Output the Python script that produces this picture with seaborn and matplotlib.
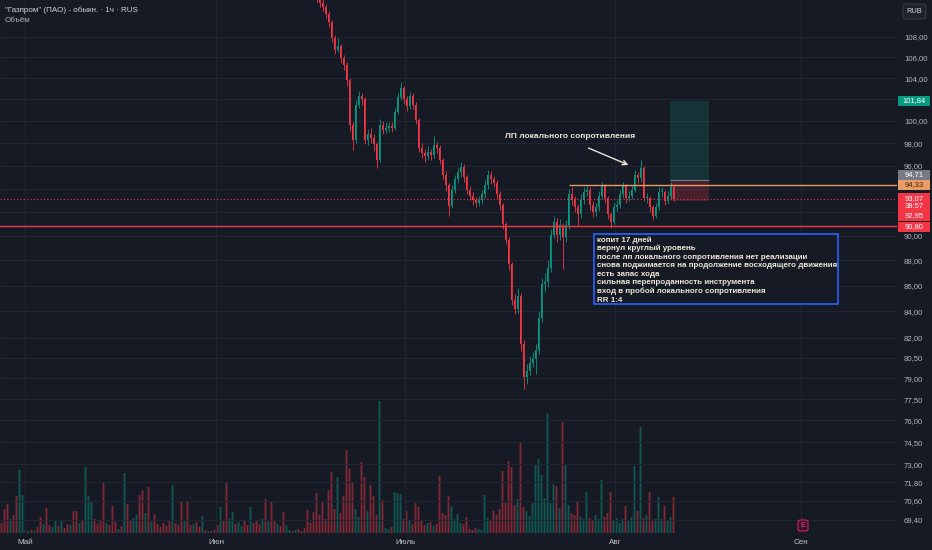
import numpy as np
import pandas as pd
import matplotlib
matplotlib.use("Agg")
import matplotlib.pyplot as plt
from matplotlib.patches import Rectangle, FancyBboxPatch
from matplotlib.ticker import FixedLocator, FuncFormatter, NullLocator
import seaborn as sns

# --- data (1 bar ~ a few hourly candles) ---
price_start = 100        # bars before this are above the visible price range
first_open = 116.8
closes = [116.0, 115.0, 114.0, 113.3, 112.6, 111.9, 111.4, 111.0, 110.3, 109.5,
          107.9, 106.7, 107.1, 105.9, 105.3, 103.8, 99.6, 98.3, 101.5, 102.3,
          102.0, 98.3, 98.8, 98.5, 97.9, 96.5, 99.6, 99.2, 99.4, 99.5,
          99.4, 100.8, 102.2, 103.1, 102.0, 101.4, 102.3, 101.5, 100.1, 97.6,
          97.1, 96.8, 97.2, 96.9, 97.8, 97.6, 96.5, 95.2, 94.3, 92.5,
          93.9, 94.8, 95.4, 95.9, 95.0, 93.9, 93.4, 93.0, 92.8, 93.0,
          93.5, 94.3, 95.2, 94.8, 94.5, 93.5, 92.6, 91.0, 89.7, 87.7,
          84.9, 84.2, 85.2, 81.5, 79.1, 79.5, 80.1, 80.4, 81.1, 83.5,
          86.1, 86.3, 87.4, 90.1, 91.2, 90.1, 90.9, 89.9, 90.9, 93.5,
          93.0, 92.4, 91.8, 93.0, 93.7, 93.9, 92.6, 92.0, 92.4, 93.4,
          94.2, 93.2, 91.8, 91.2, 92.4, 92.6, 93.5, 94.2, 93.2, 93.4,
          93.9, 95.2, 94.9, 95.8, 93.2, 93.2, 92.4, 91.7, 92.4, 93.7,
          93.7, 92.9, 93.4, 94.1, 93.07]
highs = [117.2, 116.3, 115.4, 114.3, 113.6, 112.9, 112.3, 111.8, 111.3, 110.6,
         109.7, 108.2, 107.9, 107.3, 106.2, 105.6, 104.0, 99.9, 101.9, 102.8,
         102.6, 102.2, 99.3, 99.4, 98.8, 98.1, 100.2, 100.0, 99.9, 99.9,
         99.9, 101.2, 102.6, 103.6, 103.3, 102.3, 102.7, 102.6, 101.8, 100.3,
         98.0, 97.5, 97.7, 97.5, 98.6, 98.1, 97.8, 96.7, 95.5, 94.5,
         94.3, 95.2, 95.8, 96.3, 96.1, 95.2, 94.2, 93.7, 93.3, 93.4,
         93.9, 94.7, 95.6, 95.5, 95.1, 94.7, 93.8, 92.8, 91.2, 89.9,
         87.9, 85.3, 85.8, 85.4, 81.8, 80.0, 80.6, 80.9, 81.5, 84.0,
         86.6, 87.0, 88.0, 90.6, 91.7, 91.5, 91.4, 91.1, 91.3, 94.0,
         94.1, 93.4, 92.7, 93.5, 94.1, 94.3, 94.1, 92.9, 92.8, 93.8,
         94.6, 94.4, 93.4, 92.0, 92.8, 93.0, 93.9, 94.6, 94.4, 93.8,
         94.3, 95.6, 95.4, 96.5, 96.0, 93.6, 93.4, 92.6, 92.8, 94.1,
         94.1, 93.9, 93.8, 94.6, 94.3]
lows = [115.7, 114.7, 113.7, 113.0, 112.2, 111.5, 111.0, 110.6, 109.9, 109.0,
        107.5, 106.3, 106.5, 105.5, 104.8, 103.3, 99.1, 97.4, 98.0, 101.2,
        101.5, 97.9, 97.8, 98.0, 97.3, 95.8, 96.3, 98.8, 98.9, 99.0,
        99.0, 99.2, 100.6, 101.9, 101.6, 100.9, 101.1, 101.1, 99.7, 97.2,
        96.7, 96.3, 96.5, 96.5, 96.7, 97.1, 96.1, 94.8, 93.8, 91.7,
        92.3, 93.6, 94.5, 95.0, 94.6, 93.5, 93.0, 92.6, 92.4, 92.5,
        92.7, 93.2, 94.0, 94.4, 94.1, 93.1, 92.2, 90.6, 89.3, 87.2,
        84.5, 83.8, 83.9, 81.0, 78.2, 78.6, 79.2, 79.8, 79.3, 80.8,
        83.2, 85.5, 85.9, 87.1, 89.8, 89.5, 89.7, 87.3, 89.5, 90.6,
        92.6, 92.0, 90.8, 91.5, 92.7, 93.4, 92.2, 91.6, 91.7, 92.1,
        93.1, 92.8, 91.4, 90.7, 91.0, 92.1, 92.3, 93.2, 92.8, 92.9,
        93.1, 93.7, 94.5, 94.6, 92.9, 92.8, 92.0, 91.3, 91.5, 92.2,
        93.3, 92.6, 92.7, 93.1, 92.9]
volume = [10, 24, 29, 14, 18, 37, 63, 38, 3, 2, 3, 2, 6, 16, 9,
          25, 8, 6, 12, 7, 13, 5, 9, 8, 22, 22, 10, 12, 66, 37,
          32, 14, 9, 12, 50, 10, 8, 27, 11, 4, 7, 60, 29, 12, 15,
          18, 38, 43, 20, 46, 11, 19, 9, 6, 10, 7, 12, 48, 10, 8,
          32, 12, 31, 8, 9, 11, 6, 17, 3, 2, 2, 3, 8, 26, 12,
          50, 14, 21, 9, 11, 7, 12, 8, 26, 10, 12, 9, 14, 34, 11,
          31, 13, 9, 7, 21, 8, 3, 2, 3, 4, 2, 5, 23, 10, 21,
          40, 18, 32, 14, 43, 61, 24, 56, 20, 37, 83, 64, 50, 24, 16,
          71, 56, 22, 48, 37, 18, 132, 33, 5, 4, 6, 41, 40, 39, 14,
          22, 12, 9, 30, 26, 12, 8, 10, 11, 7, 9, 57, 20, 18, 37,
          27, 14, 19, 10, 9, 16, 4, 3, 5, 4, 3, 38, 15, 12, 22,
          18, 24, 62, 30, 72, 66, 28, 34, 91, 26, 22, 17, 30, 69, 74,
          58, 35, 119, 30, 49, 47, 25, 111, 69, 28, 20, 18, 31, 16, 14,
          41, 15, 12, 18, 14, 53, 16, 20, 41, 12, 15, 10, 14, 27, 13,
          16, 67, 22, 106, 15, 18, 41, 12, 14, 36, 14, 27, 12, 16, 36]
# candle colour of the bars whose price is off the top of the view
early_dirs = ("dddudduudu" "duddudduud" "uddudduduu" "uddddudddu" "dudduuddud"
              "uddddddudd" "dudduddudu" "dddudduudu" "uddudddudu" "ddudduudud")

month_labels = ["Май", "Июн", "Июль", "Авг", "Сен"]
month_pos = [7.8, 71.5, 134.5, 204.5, 266.5]
price_ticks = [108, 106, 104, 102, 100, 98, 96, 94, 92, 90, 88, 86, 84, 82,
               80.5, 79, 77.5, 76, 74.5, 73, 71.8, 70.6, 69.4]
hidden_ticks = [102, 94, 92]   # covered by the price tags

target, entry, stop = 101.84, 94.71, 92.95
last_price = 93.07
level_orange = 94.33
level_red = 90.80
box_x = (222.8, 235.8)
orange_from = 189

note_lines = ["копит 17 дней",
              "вернул круглый уровень",
              "после лп локального сопротивления нет реализации",
              "снова поджимается на продолжение восходящего движения",
              "есть запас хода",
              "сильная перепроданность инструмента",
              "вход в пробой локального сопротивления",
              "RR 1:4"]

BG = "#161a25"
GRID = "#212531"
UP, DOWN = "#089981", "#f23645"
CREAM = "#ebe6d4"

sns.set_theme(style="dark", rc={"axes.facecolor": BG, "figure.facecolor": BG,
                                "axes.edgecolor": BG, "text.color": "#c9ccd4"})
plt.rcParams["font.family"] = ["Liberation Sans", "DejaVu Sans"]

W, H = 932, 550
fig = plt.figure(figsize=(W / 100, H / 100), dpi=100, facecolor=BG)
rect = [0, (H - 533) / H, 897 / W, 533 / H]
axv = fig.add_axes(rect)
ax = fig.add_axes(rect)
ax.patch.set_alpha(0)
xmax = 298.5


def px(x, y):
    return x / W, 1 - y / H


def fmt(v):
    return f"{v:.2f}".replace(".", ",")


# volume pane
c = np.array(closes)
o = np.r_[first_open, c[:-1]]
dirs = ["up" if ch == "u" else "down" for ch in early_dirs]
dirs += ["up" if up else "down" for up in (c >= o)]
vol_df = pd.DataFrame({"bar": np.arange(len(volume)), "vol": volume, "dir": dirs})
sns.barplot(data=vol_df, x="bar", y="vol", hue="dir", palette={"up": UP, "down": DOWN},
            native_scale=True, dodge=False, width=0.6, alpha=0.5, saturation=1,
            errorbar=None, legend=False, linewidth=0, edgecolor="none", snap=False,
            ax=axv)
axv.set_xlim(-0.5, xmax)
axv.set_ylim(0, 533)   # tallest volume bar takes about a quarter of the pane
axv.axis("off")

# candles
idx = np.arange(price_start, price_start + len(closes))
col = np.where(c >= o, UP, DOWN)
ax.set_yscale("log")
ax.vlines(idx, lows, highs, colors=col, lw=0.6, zorder=3)
ax.bar(idx, np.maximum(np.abs(c - o), 0.05), bottom=np.minimum(o, c), width=0.55,
       color=col, lw=0, zorder=3)
ax.set_xlim(-0.5, xmax)
ax.set_ylim(68.55, 111.73)

# axes styling
ax.yaxis.tick_right()
ax.yaxis.set_major_locator(FixedLocator(price_ticks))
ax.yaxis.set_minor_locator(NullLocator())
ax.yaxis.set_major_formatter(FuncFormatter(lambda v, _: "" if v in hidden_ticks else fmt(v)))
ax.set_xticks(month_pos)
ax.set_xticklabels(month_labels)
ax.tick_params(axis="y", length=0, pad=5, labelsize=5.6, colors="#b2b5be")
ax.tick_params(axis="x", length=0, pad=4, labelsize=5.8, colors="#c4c7ce")
ax.grid(True, color=GRID, lw=0.8)
for s in ax.spines.values():
    s.set_visible(False)

# levels and position box
ax.axhline(level_red, color=DOWN, lw=1, zorder=4)
ax.axhline(last_price, color=DOWN, lw=0.8, ls=(0, (1, 2)), zorder=4)
ax.hlines(level_orange, orange_from, xmax, color="#e89c66", lw=1, zorder=4)
ax.add_patch(Rectangle((box_x[0], entry), box_x[1] - box_x[0], target - entry,
                       fc=UP, alpha=0.2, lw=0, zorder=2))
ax.add_patch(Rectangle((box_x[0], stop), box_x[1] - box_x[0], entry - stop,
                       fc=DOWN, alpha=0.22, lw=0, zorder=2))
ax.hlines(entry, box_x[0], box_x[1], color="#787b86", lw=0.8, zorder=2)

# header
fig.text(*px(5, 10), "\"Газпром\" (ПАО) - обыкн. · 1ч · RUS", fontsize=5.8, color="#d1d4dc",
         va="center")
fig.text(*px(5, 21), "Объём", fontsize=5.8, color="#b2b5be", va="center")

# idea annotation
fig.text(*px(505, 137), "ЛП локального сопротивления", fontsize=6, weight="bold",
         color=CREAM, va="center")
ax.annotate("", xy=px(631, 166), xycoords="figure fraction", xytext=px(586, 147),
            textcoords="figure fraction",
            arrowprops=dict(arrowstyle="->", color=CREAM, lw=1, mutation_scale=8))

fig.add_artist(Rectangle(px(594, 304), 244 / W, 70 / H, transform=fig.transFigure,
                         fc=BG, ec="#2962ff", lw=1.2, zorder=5))
for k, line in enumerate(note_lines):
    fig.text(*px(597, 240 + k * 8.6), line, fontsize=5.75, weight="bold", color=CREAM,
             va="center", zorder=6)


# price tags on the right scale
def tag(y0, y1, bg):
    fig.add_artist(Rectangle(px(898, y1), 32 / W, (y1 - y0) / H, transform=fig.transFigure,
                             fc=bg, ec="none", zorder=5))


def tag_text(y, text, fg="white"):
    fig.text(*px(914, y), text, ha="center", va="center", fontsize=5.5, color=fg, zorder=6)


tag(96, 106, UP)
tag_text(101, fmt(target))
tag(170, 180, "#787b86")
tag_text(175, fmt(entry))
tag(180, 190, "#e89c66")
tag_text(185, fmt(level_orange), "#4a2410")
tag(193, 211, DOWN)
tag_text(199, fmt(last_price))
tag_text(206, "38:57")
tag(211, 221, DOWN)
tag_text(216, fmt(stop))
tag(222, 232, DOWN)
tag_text(227, fmt(level_red))

# currency button and earnings marker
fig.add_artist(FancyBboxPatch(px(903, 19), 23 / W, 15 / H, boxstyle="round,pad=0,rounding_size=0.004",
                              transform=fig.transFigure, fc="#1e222d", ec="#363a45",
                              lw=0.8, zorder=5))
fig.text(*px(914.5, 11.5), "RUB", ha="center", va="center", fontsize=5.3, color="#d1d4dc",
         zorder=6)
fig.add_artist(FancyBboxPatch(px(798, 531), 10 / W, 11 / H,
                              boxstyle="round,pad=0,rounding_size=0.003",
                              transform=fig.transFigure, fc="#3a1530", ec="#d81b60",
                              lw=0.8, zorder=5))
fig.text(*px(803, 525.5), "E", ha="center", va="center", fontsize=5, color="#e5507f", zorder=6)

fig.savefig("out.png", dpi=100, facecolor=BG)
